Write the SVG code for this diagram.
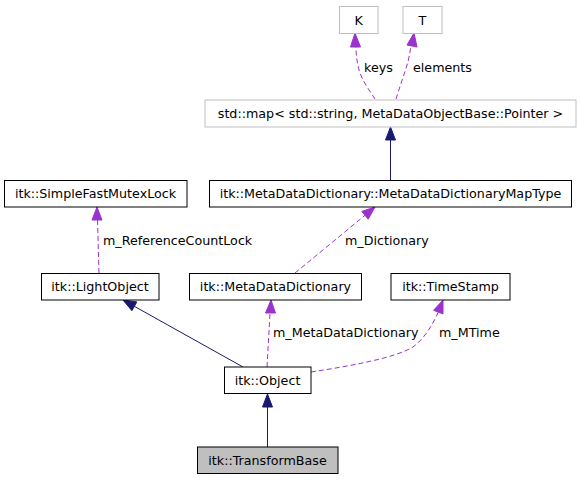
<svg xmlns="http://www.w3.org/2000/svg" width="581" height="480" viewBox="0 0 581 480">
<style>
  text { font-family: "DejaVu Sans", "Liberation Sans", sans-serif; font-size: 12.7px; fill: #000; }
  .node rect { fill: #fff; stroke: #000; stroke-width: 1; }
  .ext rect { fill: #fff; stroke: #bfbfbf; stroke-width: 1; }
  .cur rect { fill: #bfbfbf; stroke: #000; stroke-width: 1; }
  .nt { text-anchor: middle; }
  .gen { fill: none; stroke: #191970; stroke-width: 1; }
  .genh { fill: #191970; stroke: #191970; stroke-width: 1; }
  .use { fill: none; stroke: #9a32cd; stroke-width: 1; stroke-dasharray: 5,3; }
  .useh { fill: #9a32cd; stroke: #9a32cd; stroke-width: 1; }
</style>
<rect width="581" height="480" fill="#fff"/>
<g id="connectors">
  <line class="gen" x1="390.5" y1="180" x2="390.5" y2="140"/>
  <polygon class="genh" points="390.5,127 385.5,140 395.5,140"/>
  <path class="use" d="M375,99 C369,90 362,80 359,70 C357,62 356,55 356,47"/>
  <polygon class="useh" points="355,33 350.5,47 360.5,47"/>
  <text x="364" y="71.5">keys</text>
  <path class="use" d="M396,99 C400,86 405,72 408,62 C409,57 410,52 411,46"/>
  <polygon class="useh" points="414,33 407,45 417,47"/>
  <text x="413" y="71.5">elements</text>
  <line class="use" x1="99" y1="273" x2="97.5" y2="220"/>
  <polygon class="useh" points="97,207 92,220 102,220"/>
  <text x="103" y="244.5">m_ReferenceCountLock</text>
  <line class="use" x1="295" y1="273" x2="365" y2="215.3"/>
  <polygon class="useh" points="375,207 368.2,219.2 361.8,211.4"/>
  <text x="345" y="244.5">m_Dictionary</text>
  <line class="use" x1="267" y1="367" x2="270" y2="313"/>
  <polygon class="useh" points="271,300 265.5,313 275.5,313"/>
  <text x="273" y="336.5">m_MetaDataDictionary</text>
  <path class="use" d="M311,372 C350,366 395,358 413,347 C425,338 433,324 438.3,312.1"/>
  <polygon class="useh" points="443,300 443,313.9 433.6,310.3"/>
  <text x="439" y="336.5">m_MTime</text>
  <line class="gen" x1="243" y1="367" x2="134.3" y2="306.3"/>
  <polygon class="genh" points="123,300 136.8,301.9 131.9,310.7"/>
  <line class="gen" x1="267.5" y1="447" x2="267.5" y2="407"/>
  <polygon class="genh" points="267.5,394 262.5,407 272.5,407"/>
</g>
<g id="node-K" class="ext"><rect x="339.5" y="6.5" width="38.5" height="27"/><text class="nt" x="358.7" y="24.5">K</text></g>
<g id="node-T" class="ext"><rect x="403" y="6.5" width="39" height="27"/><text class="nt" x="422.5" y="24.5">T</text></g>
<g id="node-stdmap" class="ext"><rect x="205" y="100" width="371" height="27"/><text class="nt" x="390.5" y="118">std::map&lt; std::string, MetaDataObjectBase::Pointer &gt;</text></g>
<g id="node-MapType" class="node"><rect x="209.5" y="180.5" width="362" height="26.5"/><text class="nt" x="390.5" y="198">itk::MetaDataDictionary::MetaDataDictionaryMapType</text></g>
<g id="node-SimpleFastMutexLock" class="node"><rect x="4.5" y="180.5" width="182.5" height="26.5"/><text class="nt" x="95.5" y="198">itk::SimpleFastMutexLock</text></g>
<g id="node-LightObject" class="node"><rect x="41.5" y="273.5" width="117.5" height="26.5"/><text class="nt" x="100" y="291">itk::LightObject</text></g>
<g id="node-MetaDataDictionary" class="node"><rect x="189.5" y="273.5" width="172" height="26.5"/><text class="nt" x="275.5" y="291">itk::MetaDataDictionary</text></g>
<g id="node-TimeStamp" class="node"><rect x="391" y="273.5" width="119" height="26.5"/><text class="nt" x="450.5" y="291">itk::TimeStamp</text></g>
<g id="node-Object" class="node"><rect x="224.5" y="367" width="86.5" height="26.5"/><text class="nt" x="267.5" y="385">itk::Object</text></g>
<g id="node-TransformBase" class="cur"><rect x="197.5" y="447" width="140.5" height="26.5"/><text class="nt" x="267.5" y="465">itk::TransformBase</text></g>
</svg>
